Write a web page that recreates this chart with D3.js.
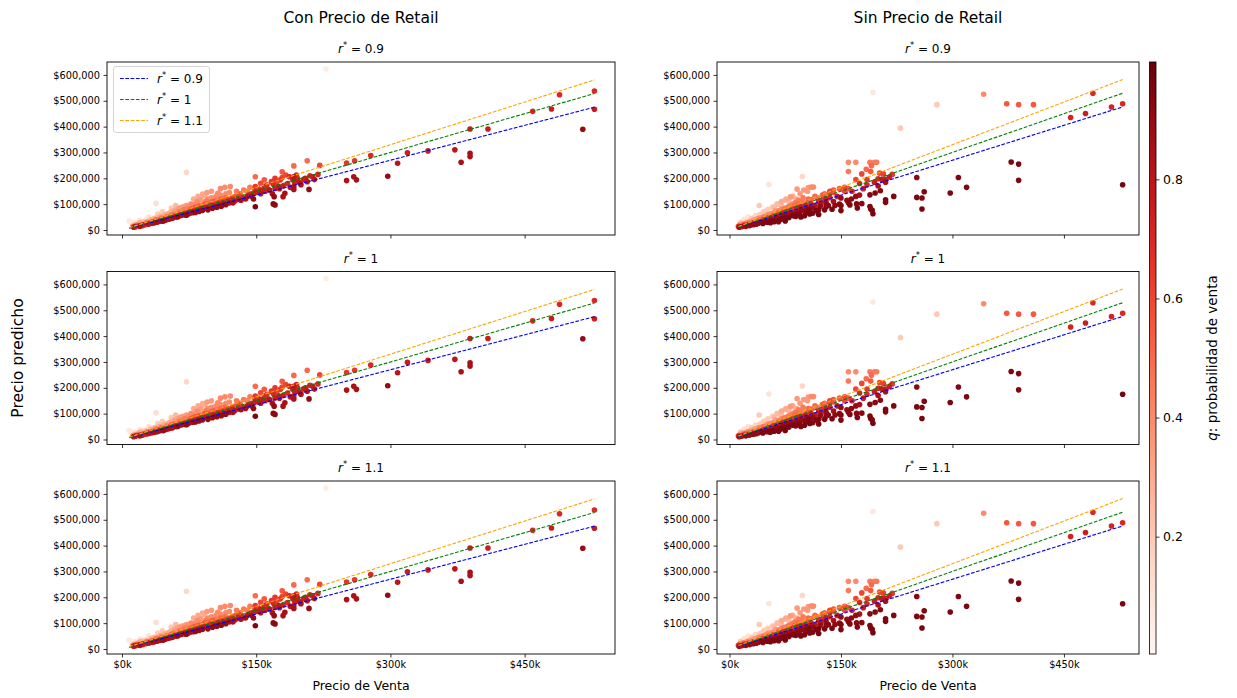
<!DOCTYPE html>
<html><head><meta charset="utf-8">
<script src="https://cdn.jsdelivr.net/npm/d3@7"></script>
<style>
body{margin:0;background:#fff;}
text{font-family:"DejaVu Sans",sans-serif;fill:#000;}
</style></head>
<body><svg id="c" width="1237" height="698"></svg>
<script>
// ---------- DATA (values in thousands of $) ----------
const columnTitles = ["Con Precio de Retail", "Sin Precio de Retail"];
const rStarValues = [0.9, 1, 1.1];
const lineColors = ["blue", "green", "orange"];
const yTicks = [0, 100, 200, 300, 400, 500, 600];
const xTicks = [0, 150, 300, 450];
const cbTicks = [0.2, 0.4, 0.6, 0.8];
const qRange = [0.003, 0.997];
const xLim = [-16.8, 551];
const yLim = [-19.4, 650];

// [Precio de Venta, Precio predicho, q]
const conRetail = [
[228,623,0.05],[528,538,0.7],[528,467,0.75],[515,390,0.9],[489,523,0.7],[480,468,0.75],[459,459,0.7],
[409,391,0.75],[389,391,0.75],[389,297,0.85],[389,284,0.85],[379,262,0.85],[372,310,0.8],[342,306,0.75],
[319,299,0.75],[308,258,0.8],[297,208,0.9],[278,288,0.7],[260,268,0.65],[251,259,0.65],[259,206,0.85],
[262,194,0.85],[251,191,0.85],[221,250,0.6],[219,215,0.7],[209,157,0.9],[207,268,0.5],[192,248,0.5],
[192,206,0.8],[192,157,0.85],[192,168,0.8],[179,203,0.6],[180,129,0.85],[182,142,0.85],[170,129,0.9],
[169,101,0.92],[171,97,0.92],[149,206,0.5],[149,90,0.95],[159,194,0.55],[159,168,0.7],[155,155,0.75],
[149,168,0.65],[149,148,0.75],[155,181,0.6],[161,168,0.7],[167,187,0.65],[169,178,0.7],[171,161,0.75],
[175,168,0.75],[177,194,0.65],[183,213,0.6],[187,206,0.7],[191,194,0.75],[195,213,0.7],[197,187,0.75],
[199,181,0.8],[203,196,0.75],[207,187,0.8],[213,206,0.75],[179,225,0.55],[171,200,0.65],
[12,15,0.35],[13,11,0.8],[14,20,0.25],[15,13,0.75],[16,17,0.5],[8,35,0.08],
[18,22,0.35],[19,16,0.7],[20,14,0.85],[21,25,0.3],[22,19,0.6],[23,17,0.75],[24,28,0.25],[25,22,0.5],
[26,20,0.7],[27,32,0.2],[28,24,0.55],[29,22,0.75],[30,36,0.15],[30,27,0.45],
[31,25,0.7],[32,30,0.5],[33,26,0.8],[34,38,0.3],[35,31,0.6],[36,28,0.8],[37,44,0.25],[38,103,0.12],
[38,34,0.55],[39,30,0.85],[40,46,0.3],[41,37,0.6],[42,33,0.85],[43,50,0.3],[44,40,0.6],[45,36,0.8],
[46,55,0.25],[47,42,0.6],[48,38,0.85],[49,60,0.25],[50,45,0.55],[50,40,0.8],
[52,64,0.3],[53,48,0.6],[54,44,0.85],[55,70,0.25],[56,52,0.6],[57,47,0.85],[58,75,0.3],[59,55,0.55],
[60,50,0.85],[61,80,0.3],[62,60,0.55],[63,53,0.85],[64,84,0.35],[65,63,0.6],[66,56,0.85],[67,70,0.45],
[68,60,0.75],[69,90,0.35],[70,66,0.6],[70,58,0.85],
[72,223,0.15],[72,95,0.35],[73,70,0.6],[74,62,0.85],[75,78,0.5],[76,66,0.85],[77,100,0.4],[78,74,0.6],
[79,67,0.85],[80,85,0.5],[81,76,0.65],[82,68,0.9],[84,110,0.4],[85,80,0.65],[86,72,0.9],[87,90,0.5],
[88,77,0.8],[90,139,0.3],[90,95,0.5],[90,82,0.75],
[92,134,0.3],[93,86,0.75],[95,100,0.55],[96,78,0.9],[98,90,0.7],[100,108,0.5],[101,84,0.9],[103,96,0.7],
[105,115,0.45],[106,88,0.9],[107,142,0.4],[108,100,0.7],[110,120,0.5],[111,92,0.9],[113,105,0.7],
[115,125,0.5],[116,98,0.9],[118,110,0.7],[121,168,0.4],[122,115,0.7],[124,105,0.85],
[127,130,0.55],[130,118,0.75],[132,140,0.5],[135,125,0.7],[138,120,0.85],[140,150,0.45],[142,135,0.7],
[145,130,0.85],[148,160,0.5],[150,145,0.7],
[20,28,0.3],[22,30,0.25],[24,20,0.7],[26,35,0.2],[28,30,0.45],[30,24,0.8],[32,40,0.25],[34,32,0.55],
[35,27,0.85],[36,45,0.25],[38,40,0.45],[40,33,0.75],[42,52,0.25],[44,46,0.45],[45,38,0.75],[46,34,0.9],
[48,58,0.3],[50,52,0.45],[52,42,0.8],[54,66,0.3],[55,57,0.5],[56,45,0.85],[58,62,0.45],[60,72,0.35],
[60,54,0.65],[62,50,0.9],[64,70,0.45],[65,58,0.7],[66,88,0.3],[68,75,0.45],[70,62,0.75],[70,80,0.45],
[72,57,0.9],[74,88,0.4],[75,70,0.7],[76,92,0.4],[78,82,0.55],[80,70,0.8],[80,98,0.4],[82,88,0.55],
[84,75,0.8],[85,105,0.4],[86,92,0.55],[88,118,0.35],[89,85,0.7],[90,76,0.9],[92,100,0.55],[94,112,0.45],
[95,85,0.8],[96,120,0.4],[98,98,0.6],[100,95,0.7],[100,125,0.4],[102,110,0.55],[104,90,0.85],[105,130,0.4],
[107,105,0.65],[109,95,0.85],[110,135,0.4],[112,115,0.6],[114,100,0.85],[116,140,0.4],[118,120,0.6],
[120,105,0.85],[120,145,0.4],[123,125,0.6],[126,112,0.8],[128,150,0.45],[130,135,0.6],[133,115,0.85],
[136,155,0.45],[140,130,0.8],[143,165,0.45],[145,140,0.7],[147,120,0.9],[152,160,0.6],[155,140,0.8],
[160,150,0.75],[162,175,0.6],[165,155,0.8],[168,140,0.85],[173,185,0.6],[176,160,0.8],[180,170,0.75],
[185,180,0.7],[188,165,0.8],[193,185,0.75],[196,200,0.7],[200,175,0.85],[205,200,0.75],[210,210,0.7],
[215,195,0.8],[80,120,0.3],[85,130,0.3],[95,145,0.35],[100,150,0.35],[110,160,0.4],[115,165,0.4],
[60,95,0.25],[55,85,0.2],[45,70,0.2],[40,62,0.18],[30,50,0.12],[20,38,0.1],[15,28,0.12],[10,30,0.06]
];

const sinRetail = [
[193,532,0.08],[342,525,0.4],[279,485,0.2],[373,488,0.55],[389,485,0.55],[409,485,0.55],[489,529,0.7],
[529,488,0.7],[514,476,0.72],[479,451,0.75],[459,435,0.72],[230,394,0.2],[379,263,0.95],[389,255,0.95],
[389,192,0.95],[529,175,0.96],[308,203,0.95],[319,165,0.95],[297,143,0.95],[252,203,0.93],[262,148,0.95],
[252,126,0.95],[259,124,0.95],[259,81,0.96],[221,130,0.95],[210,117,0.95],[210,107,0.95],[203,152,0.93],
[196,143,0.93],[189,136,0.93],[189,91,0.95],[192,76,0.95],[193,63,0.96],[190,81,0.95],[178,102,0.93],
[171,101,0.93],[172,85,0.95],[170,130,0.9],[164,120,0.92],[162,97,0.94],[160,105,0.93],[150,124,0.9],
[150,95,0.94],[150,75,0.95],[130,105,0.9],[120,78,0.95],[107,78,0.95],
[160,262,0.4],[170,262,0.4],[160,226,0.45],[189,262,0.45],[195,262,0.45],[198,262,0.45],[191,249,0.5],
[178,217,0.6],[184,235,0.5],[190,226,0.55],[202,220,0.6],[207,217,0.62],[219,215,0.65],[200,198,0.7],
[210,195,0.75],[185,195,0.65],[175,180,0.7],[170,195,0.6],[155,165,0.6],[148,160,0.55],[140,155,0.55],
[135,150,0.6],[160,160,0.55],[98,207,0.15],[53,176,0.1],[110,166,0.4],[106,164,0.35],[113,166,0.4],
[91,158,0.35],[40,95,0.2],
[12,14,0.6],[13,11,0.85],[14,20,0.4],[15,30,0.2],[16,13,0.85],[18,24,0.35],[19,15,0.8],[20,40,0.12],
[21,20,0.6],[22,14,0.9],[23,28,0.35],[24,18,0.8],[25,50,0.1],[26,24,0.55],[27,17,0.9],[28,33,0.35],
[29,22,0.75],[30,45,0.2],[31,26,0.6],[32,20,0.9],[33,38,0.35],[34,28,0.7],[35,55,0.15],[36,22,0.9],
[37,32,0.6],[38,44,0.35],[39,26,0.9],[40,36,0.6],[41,60,0.2],[42,30,0.85],[43,48,0.35],[44,38,0.65],
[45,25,0.95],[46,70,0.2],[47,42,0.6],[48,32,0.9],[49,55,0.35],[50,44,0.65],[51,30,0.95],[52,80,0.2],
[53,48,0.6],[54,36,0.9],[55,62,0.35],[56,50,0.65],[57,35,0.95],[58,90,0.2],[59,55,0.6],[60,40,0.9],
[61,68,0.35],[62,58,0.6],[63,45,0.9],[64,100,0.25],[65,62,0.6],[66,32,0.95],[67,75,0.4],[68,55,0.8],
[69,42,0.95],[70,110,0.3],[71,68,0.6],[72,50,0.9],[73,82,0.45],[74,60,0.85],[75,35,0.96],[76,120,0.3],
[77,72,0.65],[78,55,0.9],[79,90,0.45],[80,62,0.85],[82,128,0.35],[83,78,0.65],[84,58,0.92],[85,98,0.45],
[86,66,0.85],[88,105,0.45],[89,52,0.95],[90,85,0.7],[91,70,0.9],[93,115,0.45],[94,60,0.93],[96,90,0.7],
[97,75,0.9],[99,125,0.45],[100,155,0.35],[101,55,0.95],[103,95,0.7],[104,80,0.9],[106,120,0.5],
[108,62,0.95],[110,100,0.7],[112,85,0.9],[115,130,0.5],[117,75,0.95],[120,110,0.7],[122,92,0.9],
[125,135,0.55],[128,78,0.95],[130,120,0.75],[133,95,0.92],[135,140,0.6],[140,110,0.85],
[20,22,0.5],[25,30,0.4],[28,20,0.85],[30,35,0.35],[32,28,0.65],[35,40,0.35],[36,25,0.9],[40,45,0.4],
[42,38,0.6],[44,30,0.9],[46,50,0.45],[48,42,0.65],[50,35,0.9],[52,60,0.4],[54,50,0.6],[55,28,0.95],
[58,65,0.4],[60,55,0.65],[60,32,0.95],[62,75,0.35],[64,50,0.8],[66,68,0.5],[68,40,0.95],[70,80,0.4],
[72,65,0.7],[74,45,0.95],[76,85,0.45],[78,70,0.7],[80,48,0.95],[82,95,0.4],[84,80,0.65],[86,55,0.95],
[88,92,0.55],[90,60,0.92],[92,100,0.5],[94,85,0.75],[96,50,0.95],[98,110,0.45],[100,90,0.75],[102,70,0.92],
[105,105,0.55],[108,85,0.85],[110,118,0.5],[112,65,0.95],[115,95,0.8],[118,125,0.5],[120,60,0.96],
[123,100,0.8],[125,115,0.65],[128,140,0.5],[130,90,0.92],[135,125,0.7],[138,80,0.95],[140,145,0.55],
[142,95,0.92],[145,130,0.75],[148,100,0.92],[155,150,0.6],[158,115,0.9],[165,150,0.7],[175,135,0.85],
[180,160,0.75],[185,175,0.7],[195,185,0.75],[200,170,0.85],[205,195,0.78],[210,185,0.85],[215,205,0.75],
[60,85,0.25],[70,95,0.25],[80,110,0.25],[45,65,0.2],[35,55,0.15],[50,75,0.2],[90,120,0.3],[65,100,0.2],
[75,115,0.25],[85,130,0.3],[95,140,0.35],[105,150,0.35]
];

// ---------- LAYOUT ----------
const svg = d3.select("#c");
const colX = [[107, 615], [717, 1139]];
const rowY = [[62, 235], [271.5, 444.5], [481, 654]];
const cb = {x0: 1149.5, x1: 1156, y0: 62, y1: 654};
const datasets = [conRetail, sinRetail];
const color = d3.scaleSequential(d3.interpolateReds).domain(qRange);

function rTitle(sel, val) {
  sel.append("tspan").attr("font-style", "italic").text("r");
  sel.append("tspan").attr("dy", -5).attr("font-size", "0.7em").text("*");
  sel.append("tspan").attr("dy", 5).text(" = " + val);
}

colX.forEach((cx, ci) => {
  const data = datasets[ci].slice().sort((a, b) => a[2] - b[2]);
  const xExt = d3.extent(datasets[ci], d => d[0]);
  const x = d3.scaleLinear().domain(xLim).range(cx);
  svg.append("text").attr("x", (cx[0] + cx[1]) / 2).attr("y", 23)
    .attr("text-anchor", "middle").attr("font-size", "15.5px").text(columnTitles[ci]);
  rowY.forEach((ry, ri) => {
    const y = d3.scaleLinear().domain(yLim).range([ry[1], ry[0]]);
    const g = svg.append("g");
    g.append("g").selectAll("circle").data(data).join("circle")
      .attr("cx", d => x(d[0])).attr("cy", d => y(d[1])).attr("r", 2.8)
      .attr("fill", d => color(d[2]));
    rStarValues.forEach((r, li) => {
      g.append("line")
        .attr("x1", x(xExt[0])).attr("y1", y(xExt[0] * r))
        .attr("x2", x(xExt[1])).attr("y2", y(xExt[1] * r))
        .attr("stroke", lineColors[li]).attr("stroke-width", 1.1)
        .attr("stroke-dasharray", "3.7,1.6");
    });
    g.append("rect").attr("x", cx[0]).attr("y", ry[0]).attr("width", cx[1] - cx[0])
      .attr("height", ry[1] - ry[0]).attr("fill", "none").attr("stroke", "#000").attr("stroke-width", 0.9);
    const ya = d3.axisLeft(y).tickValues(yTicks).tickSize(3.5).tickPadding(3.5)
      .tickFormat(d => "$" + d3.format(",")(d * 1000));
    const yg = svg.append("g").attr("transform", `translate(${cx[0]},0)`).call(ya);
    const xa = d3.axisBottom(x).tickValues(xTicks).tickSize(3.5).tickPadding(3.5)
      .tickFormat(d => ri === 2 ? "$" + d + "k" : "");
    const xg = svg.append("g").attr("transform", `translate(0,${ry[1]})`).call(xa);
    [yg, xg].forEach(a => {
      a.select(".domain").remove();
      a.selectAll("line").attr("stroke", "#000").attr("stroke-width", 0.8);
      a.selectAll("text").attr("font-size", "9.8px").attr("font-family", "DejaVu Sans").attr("fill", "#222");
    });
    svg.append("text").attr("x", (cx[0] + cx[1]) / 2).attr("y", ry[0] - 9)
      .attr("text-anchor", "middle").attr("font-size", "12px").call(rTitle, rStarValues[ri]);
    if (ri === 2) {
      svg.append("text").attr("x", (cx[0] + cx[1]) / 2).attr("y", 690)
        .attr("text-anchor", "middle").attr("font-size", "12.5px").text("Precio de Venta");
    }
    if (ci === 0 && ri === 0) {
      const lg = svg.append("g");
      lg.append("rect").attr("x", 113.5).attr("y", 66.5).attr("width", 96).attr("height", 66)
        .attr("rx", 2.5).attr("fill", "#fff").attr("fill-opacity", 0.8).attr("stroke", "#ccc").attr("stroke-width", 0.8);
      rStarValues.forEach((r, li) => {
        const ly = 78.5 + li * 21;
        lg.append("line").attr("x1", 120).attr("x2", 148).attr("y1", ly).attr("y2", ly)
          .attr("stroke", lineColors[li]).attr("stroke-width", 1.1).attr("stroke-dasharray", "3.7,1.6");
        lg.append("text").attr("x", 157).attr("y", ly + 4.5).attr("font-size", "12px").call(rTitle, r);
      });
    }
  });
});

svg.append("text").attr("transform", "translate(23,358) rotate(-90)")
  .attr("text-anchor", "middle").attr("font-size", "15.5px").text("Precio predicho");

const defs = svg.append("defs");
const grad = defs.append("linearGradient").attr("id", "cbg").attr("x1", 0).attr("x2", 0).attr("y1", 1).attr("y2", 0);
d3.range(0, 1.0001, 0.05).forEach(t => {
  grad.append("stop").attr("offset", t).attr("stop-color", d3.interpolateReds(t));
});
svg.append("rect").attr("x", cb.x0).attr("y", cb.y0).attr("width", cb.x1 - cb.x0).attr("height", cb.y1 - cb.y0)
  .attr("fill", "url(#cbg)").attr("stroke", "#000").attr("stroke-width", 0.8);
const cy = d3.scaleLinear().domain(qRange).range([cb.y1, cb.y0]);
const cba = svg.append("g").attr("transform", `translate(${cb.x1},0)`)
  .call(d3.axisRight(cy).tickValues(cbTicks).tickSize(3.5).tickPadding(3.5).tickFormat(d3.format(".1f")));
cba.select(".domain").remove();
cba.selectAll("line").attr("stroke", "#000").attr("stroke-width", 0.8);
cba.selectAll("text").attr("font-size", "12.5px").attr("font-family", "DejaVu Sans").attr("fill", "#222");
const cl = svg.append("text").attr("transform", "translate(1217,358) rotate(-90)")
  .attr("text-anchor", "middle").attr("font-size", "13.5px");
cl.append("tspan").attr("font-style", "italic").text("q");
cl.append("tspan").text(": probabilidad de venta");
</script></body></html>
